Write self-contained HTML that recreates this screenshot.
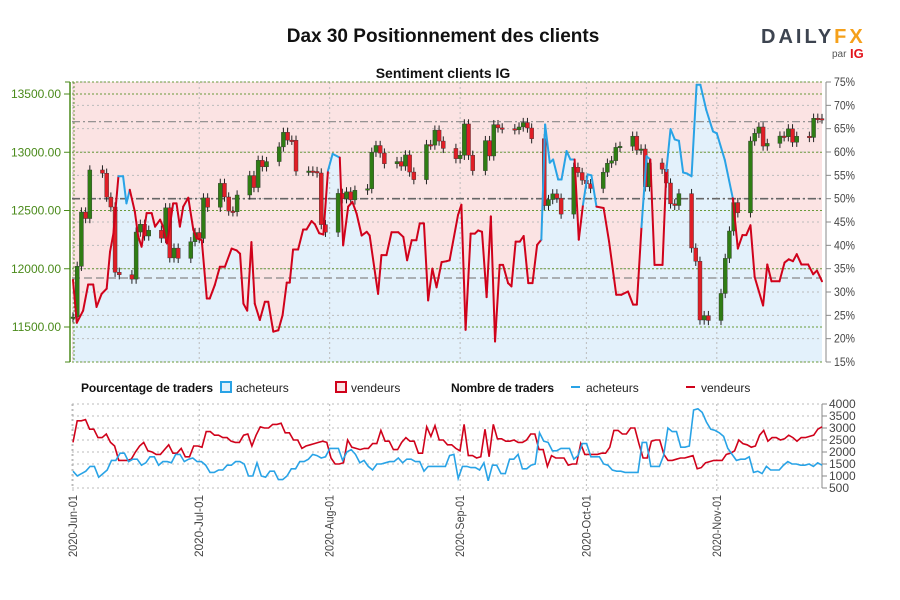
<!DOCTYPE html>
<html><head><meta charset="utf-8"><style>
body{margin:0;background:#fff;}
svg{display:block;font-family:"Liberation Sans",sans-serif;}
.n{font-family:"Liberation Sans Narrow","Liberation Sans",sans-serif;}
</style></head><body>
<svg id="c" width="900" height="600" viewBox="0 0 900 600">
<text x="443" y="42" text-anchor="middle" font-size="19" font-weight="bold" fill="#111">Dax 30 Positionnement des clients</text>
<text x="443" y="78" text-anchor="middle" font-size="14" font-weight="bold" fill="#111">Sentiment clients IG</text>
<g>
<text x="761" y="43" font-size="20" font-weight="bold" letter-spacing="3" fill="#3d4450">DAILY<tspan fill="#f5a01a">FX</tspan></text>
<text x="832" y="57" font-size="10" fill="#555">par</text>
<text x="850" y="58" font-size="13" font-weight="bold" fill="#e3141c">IG</text>
</g>
<g id="main"></g>
<g id="bottom"></g>
<g class="n" font-size="12">
<text x="81" y="392" font-weight="bold" fill="#111" textLength="132">Pourcentage de traders</text>
<rect x="221" y="382" width="10" height="10" fill="#e3f1fb" stroke="#29a3e6" stroke-width="2"/>
<text x="236" y="392" fill="#222">acheteurs</text>
<rect x="336" y="382" width="10" height="10" fill="#fbe3e3" stroke="#d0021b" stroke-width="2"/>
<text x="351" y="392" fill="#222">vendeurs</text>
<text x="451" y="392" font-weight="bold" fill="#111" textLength="103">Nombre de traders</text>
<line x1="571" y1="387" x2="580" y2="387" stroke="#29a3e6" stroke-width="2"/>
<text x="586" y="392" fill="#222">acheteurs</text>
<line x1="686" y1="387" x2="695" y2="387" stroke="#d0021b" stroke-width="2"/>
<text x="701" y="392" fill="#222">vendeurs</text>
</g>
</svg>
<script>
const closes=[11586,12021,12487,12431,12848,12820,12615,12530,11970,11949,11911,12315,12382,12281,12331,12262,12523,12093,12177,12089,12232,12311,
12260,12608,12528,12733,12616,12495,12489,12633,12800,12697,12931,12875,12920,13046,13171,13104,13103,12838,12839,12835,12822,12379,12313,
12647,12601,12660,12591,12674,12687,13000,13058,12993,12901,12920,12881,12977,12830,12765,13066,13061,13190,13096,13033,12945,
12974,13243,12974,12842,13100,12968,13237,13209,13202,13193,13217,13255,13208,13116,12542,12594,12643,12606,12469,12871,12826,12760,
12730,12689,12828,12906,12928,13042,13051,13138,13018,13028,12703,12908,12854,12736,12557,12543,12645,12178,12064,11560,11598,11556,
11788,12089,12324,12568,12480,13096,13163,13217,13053,13076,13139,13133,13201,13086,13137,13127,13292,13289,13286];
const firstOpen=11580;
const sentDay=[0,0.9,2.4,3.6,4.8,5.6,6.8,8,8.8,9.6,10.8,11.9,12.7,13.5,14.7,15.5,16.3,17.5,18.7,19.5,20.7,21.4,22.3,23,23.8,24.6,25.4,26.2,27.4,28.6,29.4,30.6,31.8,32.5,33.7,34.9,36.1,37.7,38.9,39.7,40.5,41.4,42.4,43.2,44.4,45.6,46.4,47.6,48.8,49.8,50.8,51.5,52.3,53.5,54.7,55.5,56.7,57.5,58.5,59.5,60.6,61.7,63.4,64.2,65.4,66.4,67.4,68.6,69.8,70.5,72.5,73.3,74.5,75.7,77.3,78.5,79.4,80.5,81.6,82.4,83.4,84.4,85.4,86.4,87.6,88.8,
89.5,91.5,92.3,93.3,94.5,95.5,96.3,97.2,98.3,99.3,100.3,101.4,102.2,103.4,104.2,105.2,106.2,107.1,108.2,109.2,110.3,111.3,112.2,113.3,114.1,115.3,116.1,117.3,118.2,119.2,120.2,121.2,122.3,123.2,124.4,126.1,127.4,129.1,130.3,131.9,133.1,134,135.1,136.3,137.2,138.2,140.1,141,142,143,144,145,145.9,147,148.2,149.1,150.5,152.1,153,154.9,156.8,158,159.1,160,161,162,164,165,166,167.9,169.1,170.1,171.1,172,173.1,174.7,175.9,176.8,178];
const sentVal=[32.6,23.4,26,31.6,31.6,26.8,29.6,30.7,38.6,42.5,54.8,54.8,49,51.9,47.2,41.9,39.7,46.9,46.9,44,45.5,44,40.4,44,49,49,44,48.3,50.2,43.3,41.5,41.1,28.6,28.6,31.5,35.4,35.4,39.3,38.9,38.2,27.5,26,40.7,27.5,24,27.9,27.9,21.5,21.8,25,32,32,39.1,39.1,43.4,43.4,45.2,44.5,42.6,42.3,56,59.6,58.8,40,48.3,49.3,46.8,42.1,42.9,42.1,29.6,37.9,37.9,42.8,42.8,41.8,36.8,41.1,41.1,44.7,44.7,28.2,35,31,36.4,36.6,
36.8,46.5,48.7,21.9,42.5,42.5,43.2,42.9,28.9,46.2,19.4,35.8,35.8,31.9,31.2,40.8,40.8,42,31.9,31.9,40.1,41.2,65.9,57.7,58.4,54.1,54.1,60.2,58.4,58.4,41.2,48.7,55.2,55,48.3,48,40.8,29.4,29.4,30.1,27.3,27.3,43.9,59.1,58.4,35.8,35.8,55.9,64.9,62.7,62.4,55.6,55.4,54.8,74.4,74.4,69,64.4,64,58.3,50.1,39.3,42.2,42.2,44.3,33.2,27.1,35.9,32.3,32.3,36.3,37,36.6,38.1,35.9,35.9,33.8,34.6,32.3];
const buyCount=[1200,1000,1100,1200,1400,1400,950,1100,1250,1650,1650,1950,1950,1600,1700,1700,1450,1550,1800,1800,1450,1600,1600,1550,1900,1900,1600,1700,1750,1600,1600,1450,1150,1150,1250,1250,1450,1450,1600,1600,1500,1000,1000,1550,1000,950,1200,1200,850,850,1000,1300,1300,1600,1600,1700,1900,1850,1750,1800,2150,2150,2150,1650,2000,2100,1900,1550,1650,1400,1250,1500,1500,1550,1600,1600,1750,1550,1700,1700,1600,1600,1200,1400,1400,1400,1400,1400,1850,1900,900,1400,1400,1350,1350,1250,1550,800,1450,1450,1100,1100,1700,1700,1900,1300,1300,1450,1500,2800,2450,2400,2050,2050,2150,2150,2150,1700,1850,2350,2350,1800,1800,1800,1500,1450,1250,1200,1200,1150,1150,1150,1150,2400,2400,1400,1400,1400,1850,3000,2850,2850,2200,2200,2250,3750,3800,3650,3250,2950,2900,2800,2650,2150,1900,1650,1700,1700,1800,1150,1200,1100,1400,1250,1250,1250,1450,1600,1500,1500,1450,1450,1500,1400,1550,1450];
const sellCount=[2400,3300,3300,3350,2950,2950,2600,2600,2750,2400,2250,1650,1650,1650,1700,2000,2250,2400,2050,2000,1900,1900,2100,2300,1950,1950,2150,1800,1800,2250,2250,2200,2850,2850,2700,2700,2600,2600,2450,2400,2400,2700,2750,2250,2700,3050,3000,3000,3150,3150,3200,2800,2800,2500,2500,2150,2250,2300,2350,2400,2450,2400,1750,1500,1500,1550,2500,2200,2150,2100,2150,2150,2350,2350,2900,2450,2450,2100,2100,2400,2600,2450,2450,1950,1950,3050,2650,3100,2500,2500,2300,2300,2150,2050,3150,1850,1850,1750,1800,2950,1800,3150,2550,2550,2450,2450,2500,2400,2400,2500,2750,2750,2100,2100,1400,1850,1750,1750,1750,1450,1500,1500,2350,1900,1900,1900,1900,1950,1950,2200,2900,2900,2750,2750,3000,3000,2350,1750,1750,2450,2500,2500,1900,1650,1650,1700,1750,1750,1800,1850,1300,1350,1550,1600,1650,1650,1650,1900,1950,2050,2500,2350,2300,2200,2250,2700,2900,2450,2600,2600,2500,2550,2700,2600,2450,2600,2600,2650,2700,2950,3050];
const priceTicks=[13500,13000,12500,12000,11500];
const pctTicks=[75,70,65,60,55,50,45,40,35,30,25,20,15];
const countTicks=[4000,3500,3000,2500,2000,1500,1000,500];
const monthLabels=["2020-Jun-01","2020-Jul-01","2020-Aug-01","2020-Sep-01","2020-Oct-01","2020-Nov-01"];
const monthDays=[0,30,61,92,122,153];
const refPct=[66.5,50,33];

const NS="http://www.w3.org/2000/svg";
const L=72,R=822,T=82,B=362,BT=404,BB=488,TOTAL=178;
const dayX=d=>73+d*(R-73)/TOTAL;
const priceY=p=>94+(13500-p)*(327-94)/2000;
const pctY=v=>T+(75-v)*(B-T)/60;
const cntY=c=>BT+(4000-c)*(BB-BT)/3500;
function mk(p,tag,a){const e=document.createElementNS(NS,tag);for(const k in a)e.setAttribute(k,a[k]);p.appendChild(e);return e;}
const main=document.getElementById('main'),bot=document.getElementById('bottom');

let bg=mk(main,'rect',{x:L,y:T,width:R-L,height:B-T,fill:'#fbe3e3'});


let fp='M'+dayX(sentDay[0])+','+B;
sentDay.forEach((d,i)=>fp+=' L'+dayX(d).toFixed(1)+','+pctY(sentVal[i]).toFixed(1));
fp+=' L'+dayX(sentDay[sentDay.length-1])+','+B+' Z';
let fa=mk(main,'path',{d:fp,fill:'#e3f1fb'});



pctTicks.forEach(v=>{const g=mk(main,'line',{x1:L,x2:R,y1:pctY(v),y2:pctY(v),stroke:'#bbb','stroke-dasharray':'2,3'});

});
monthDays.forEach(d=>{const g=mk(main,'line',{x1:dayX(d),x2:dayX(d),y1:T,y2:B,stroke:'#bbb','stroke-dasharray':'2,3'});

});
priceTicks.concat([13603,11200]).forEach(p=>{const y=p===13603?T:p===11200?B:priceY(p);const g=mk(main,'line',{x1:L,x2:R,y1:y,y2:y,stroke:'#6a9a3a','stroke-dasharray':'2,2'});

});
mk(main,'line',{x1:74,x2:74,y1:T,y2:B,stroke:'#6a9a3a','stroke-dasharray':'2,2'});
refPct.forEach((v,i)=>{const g=mk(main,'line',{x1:L,x2:R,y1:pctY(v),y2:pctY(v),stroke:i==1?'#666':'#888','stroke-width':i==1?1.6:1.2,'stroke-dasharray':i==2?'8,4':'8,3,2,3'});

});

{let d=new Date(Date.UTC(2020,5,1)),i=0;const base=d.getTime();
while(i<closes.length){const wd=d.getUTCDay();if(wd!==0&&wd!==6){const day=(d.getTime()-base)/864e5;const o=i?closes[i-1]:firstOpen,c=closes[i];const x=dayX(day);
const hi=Math.max(o,c)+40,lo=Math.min(o,c)-40;
const w=mk(main,'line',{x1:x,x2:x,y1:priceY(hi),y2:priceY(lo),stroke:'#222','stroke-width':1});


const yt=priceY(Math.max(o,c)),yb=priceY(Math.min(o,c));
const r=mk(main,'rect',{x:x-2,y:yt,width:4,height:Math.max(1.5,yb-yt),fill:c>=o?'#2f7d14':'#e01e26',stroke:'#333','stroke-width':0.4});

i++;}
d=new Date(d.getTime()+864e5);}}

for(let i=1;i<sentDay.length;i++){const m=(sentVal[i]+sentVal[i-1])/2;
const s=mk(main,'line',{x1:dayX(sentDay[i-1]),y1:pctY(sentVal[i-1]),x2:dayX(sentDay[i]),y2:pctY(sentVal[i]),stroke:m>=50?'#29a3e6':'#d0021b','stroke-width':2,'stroke-linecap':'round'});

}

mk(main,'line',{x1:70,x2:70,y1:T,y2:B,stroke:'#4a8a1a','stroke-width':1.5});
mk(main,'line',{x1:65,x2:70,y1:T,y2:T,stroke:'#4a8a1a'});mk(main,'line',{x1:65,x2:70,y1:B,y2:B,stroke:'#4a8a1a'});
priceTicks.forEach(p=>{mk(main,'line',{x1:64,x2:70,y1:priceY(p),y2:priceY(p),stroke:'#4a8a1a'});
const t=mk(main,'text',{x:61,y:priceY(p)+4,'text-anchor':'end','font-size':12,fill:'#4a8a1a'});t.textContent=p.toFixed(2);

});
mk(main,'line',{x1:826,x2:826,y1:T,y2:B,stroke:'#888'});
pctTicks.forEach(v=>{mk(main,'line',{x1:826,x2:831,y1:pctY(v),y2:pctY(v),stroke:'#888'});
const t=mk(main,'text',{x:834,y:pctY(v)+4,'font-size':12,fill:'#444',class:'n',textLength:21,lengthAdjust:'spacingAndGlyphs'});t.textContent=v+'%';

});

countTicks.forEach(c=>{const g=mk(bot,'line',{x1:L,x2:R,y1:cntY(c),y2:cntY(c),stroke:'#bbb','stroke-dasharray':'2,3'});


mk(bot,'line',{x1:822,x2:827,y1:cntY(c),y2:cntY(c),stroke:'#888'});
const t=mk(bot,'text',{x:829,y:cntY(c)+4,'font-size':12,fill:'#444',class:'n'});t.textContent=c;

});
mk(bot,'line',{x1:L,x2:L,y1:BT,y2:BB,stroke:'#bbb','stroke-dasharray':'2,3'});
mk(bot,'line',{x1:822,x2:822,y1:BT,y2:BB,stroke:'#888'});
monthDays.forEach((d,i)=>{const x=dayX(d);const g=mk(bot,'line',{x1:x,x2:x,y1:BT,y2:BB+4,stroke:'#bbb','stroke-dasharray':'2,3'});


const t=mk(bot,'text',{x:0,y:0,'text-anchor':'end','font-size':12,fill:'#444',class:'n',textLength:62,lengthAdjust:'spacingAndGlyphs',transform:'translate('+(x+4)+','+(BB+7)+') rotate(-90)'});t.textContent=monthLabels[i];

});
function series(arr,col,name){let p='';arr.forEach((v,i)=>{p+=(i?' L':'M')+dayX(i*TOTAL/(arr.length-1)).toFixed(1)+','+cntY(v).toFixed(1);});
const e=mk(bot,'path',{d:p,fill:'none',stroke:col,'stroke-width':1.6});

}
series(sellCount,'#d0021b','vendeurs-count-line');
series(buyCount,'#29a3e6','acheteurs-count-line');
</script>
</body></html>
